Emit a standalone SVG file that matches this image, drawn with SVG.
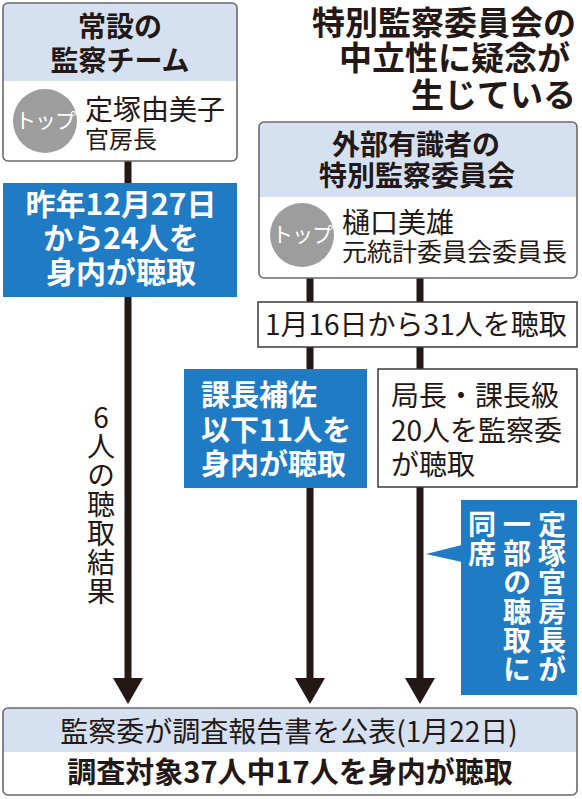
<svg xmlns="http://www.w3.org/2000/svg" width="582" height="799" viewBox="0 0 582 799">
<style>
text{font-family:"Noto Sans CJK JP","Noto Sans",sans-serif;fill:#231815}
.b{font-weight:bold}
.w{fill:#fff}
.hdr{fill:#d5e0f0}
.frame{fill:none;stroke:#6a6a6a;stroke-width:1.6}
.blue{fill:#1f7bc4}
.plain{fill:#fff;stroke:#3a3a3a;stroke-width:1.5}
.line{stroke:#231815;stroke-width:7;fill:none}
.head{fill:#231815}
.c{text-anchor:middle}
.v{writing-mode:vertical-rl;text-orientation:upright;letter-spacing:1px}
</style>
<rect width="582" height="799" fill="#fff"/>
<g id="connectors">
<line class="line" x1="128" y1="161" x2="128" y2="682"/>
<line class="line" x1="310" y1="278" x2="310" y2="682"/>
<line class="line" x1="420" y1="278" x2="420" y2="682"/>
<polygon class="head" points="113,678 143,678 128,704"/>
<polygon class="head" points="295,678 325,678 310,704"/>
<polygon class="head" points="405,678 435,678 420,704"/>
</g>
<g id="title">
<text class="b" x="576" y="35" font-size="33" text-anchor="end">特別監察委員会の</text>
<text class="b" x="570" y="70" font-size="33" text-anchor="end">中立性に疑念が</text>
<text class="b" x="576" y="107" font-size="33" text-anchor="end">生じている</text>
</g>
<g id="team">
<path class="hdr" d="M3,81 V8 a5,5 0 0 1 5,-5 H232 a5,5 0 0 1 5,5 V81 Z"/>
<rect class="frame" x="3" y="3" width="234" height="158" rx="5"/>
<text class="b c" x="120" y="37" font-size="28">常設の</text>
<text class="b c" x="120" y="71" font-size="28">監察チーム</text>
<circle cx="45" cy="121" r="32" fill="#9d9d9d"/>
<text class="w c" x="45" y="128" font-size="21" letter-spacing="-1">トップ</text>
<text x="85" y="120" font-size="28">定塚由美子</text>
<text x="85" y="148" font-size="24">官房長</text>
</g>
<g id="committee">
<path class="hdr" d="M259,197 V127 a5,5 0 0 1 5,-5 H572 a5,5 0 0 1 5,5 V197 Z"/>
<rect class="frame" x="259" y="122" width="318" height="156" rx="5"/>
<text class="b c" x="416" y="155" font-size="28">外部有識者の</text>
<text class="b c" x="417" y="186" font-size="28">特別監察委員会</text>
<circle cx="302" cy="235" r="32" fill="#9d9d9d"/>
<text class="w c" x="302" y="242" font-size="21" letter-spacing="-1">トップ</text>
<text x="342" y="233" font-size="28">樋口美雄</text>
<text x="342" y="261" font-size="25">元統計委員会委員長</text>
</g>
<g id="blue1">
<rect class="blue" x="3" y="183" width="234" height="114"/>
<text class="b w c" x="121" y="215" font-size="30">昨年12月27日</text>
<text class="b w c" x="121" y="249" font-size="30">から24人を</text>
<text class="b w c" x="121" y="283" font-size="30">身内が聴取</text>
</g>
<g id="jan16">
<rect class="plain" x="258" y="302" width="319" height="45"/>
<text x="265" y="335" font-size="28">1月16日から31人を聴取</text>
</g>
<g id="blue2">
<rect class="blue" x="184" y="369" width="183" height="119"/>
<text class="b w" x="201" y="406" font-size="29">課長補佐</text>
<text class="b w" x="201" y="441" font-size="29">以下11人を</text>
<text class="b w" x="201" y="475" font-size="29">身内が聴取</text>
</g>
<g id="senior">
<rect class="plain" x="378" y="369" width="199" height="118"/>
<text x="391" y="406" font-size="28">局長・課長級</text>
<text x="391" y="441" font-size="28">20人を監察委</text>
<text x="391" y="475" font-size="28">が聴取</text>
</g>
<g id="six">
<text class="v" x="101" y="403" font-size="28">6人の聴取結果</text>
</g>
<g id="blue3">
<polygon class="blue" points="426,554 462,545 462,562"/>
<rect class="blue" x="461" y="500" width="116" height="195"/>
<text class="b w v" x="552" y="510" font-size="28">定塚官房長が</text>
<text class="b w v" x="517" y="510" font-size="28">一部の聴取に</text>
<text class="b w v" x="482" y="510" font-size="28">同席</text>
</g>
<g id="report">
<path class="hdr" d="M3,752 V713 a5,5 0 0 1 5,-5 H572 a5,5 0 0 1 5,5 V752 Z"/>
<rect class="frame" x="3" y="708" width="574" height="87" rx="5"/>
<text class="c" x="289" y="742" font-size="28">監察委が調査報告書を公表(1月22日)</text>
<text class="b c" x="290" y="783" font-size="29">調査対象37人中17人を身内が聴取</text>
</g>
</svg>
